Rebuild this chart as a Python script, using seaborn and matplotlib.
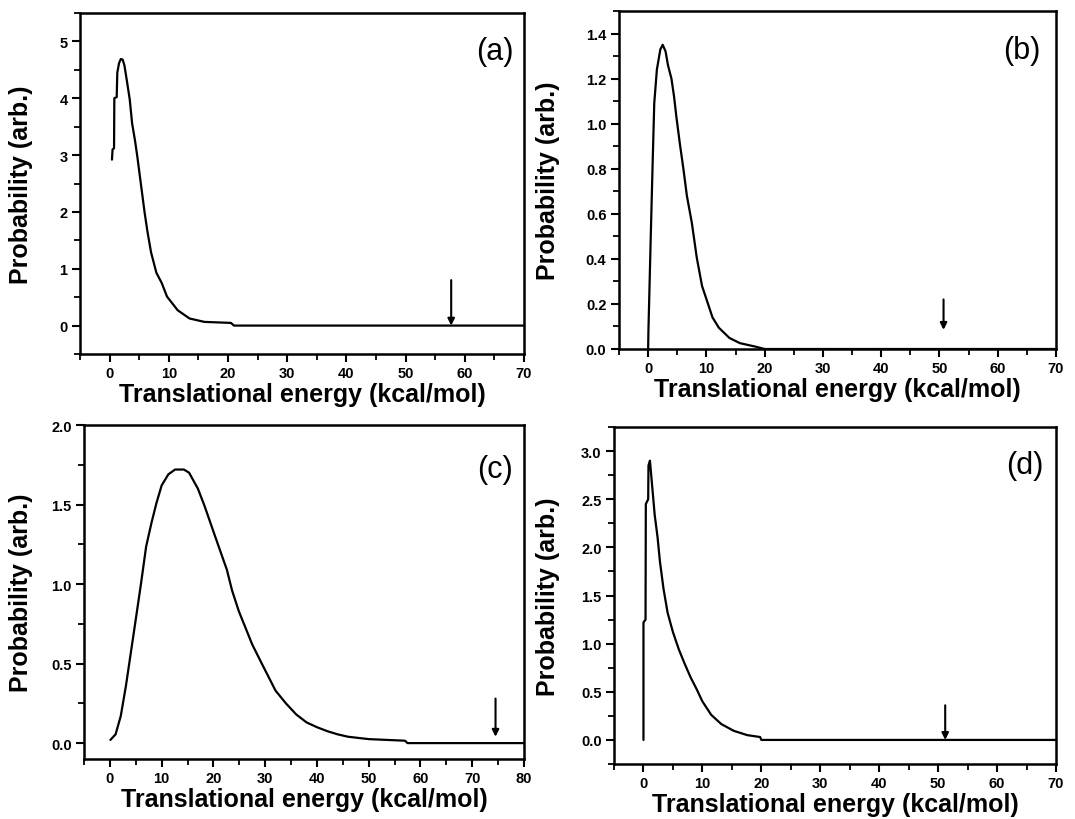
import matplotlib
matplotlib.use("Agg")
import matplotlib.pyplot as plt
from matplotlib.ticker import MultipleLocator, FormatStrFormatter
import seaborn as sns
import pandas as pd

# ---------------- data ----------------
a_energy = [0.4, 0.5, 0.75, 0.8, 1.2, 1.3, 1.6, 1.9, 2.2, 2.5, 2.9, 3.4, 3.8, 4.3, 4.7,
            5.3, 5.9, 6.4, 7.0, 7.9, 8.8, 9.7, 11.5, 13.5, 16.0, 20.5, 21.0, 70.0]
a_prob = [2.92, 3.10, 3.12, 4.00, 4.02, 4.45, 4.62, 4.69, 4.68, 4.58, 4.32, 3.98, 3.56, 3.25, 2.96,
          2.48, 2.00, 1.65, 1.29, 0.93, 0.75, 0.51, 0.27, 0.125, 0.065, 0.047, 0.0, 0.0]

b_energy = [0.0, 0.05, 0.45, 0.8, 1.05, 1.5, 2.1, 2.5, 3.0, 3.4, 4.0, 4.45, 4.85, 5.45, 6.05,
            6.65, 7.5, 8.35, 9.25, 10.15, 11.05, 12.15, 13.95, 15.75, 18.5, 20.0, 70.0]
b_prob = [0.0, 0.08, 0.50, 0.85, 1.09, 1.24, 1.33, 1.35, 1.32, 1.26, 1.20, 1.12, 1.03, 0.91, 0.80,
          0.68, 0.56, 0.405, 0.28, 0.21, 0.14, 0.094, 0.049, 0.026, 0.01, 0.0, 0.0]

c_energy = [0.1, 1.1, 2.1, 3.1, 4.1, 5.1, 6.0, 7.0, 8.0, 9.0, 10.0, 11.3, 12.6, 14.3, 15.3,
            17.0, 18.3, 19.9, 21.3, 22.6, 23.6, 24.9, 26.2, 27.5, 29.5, 32.0, 34.0, 36.0,
            38.0, 40.0, 42.0, 44.0, 46.0, 50.0, 57.0, 57.5, 80.0]
c_prob = [0.02, 0.055, 0.17, 0.36, 0.58, 0.80, 1.00, 1.235, 1.38, 1.51, 1.62, 1.69, 1.72, 1.72, 1.70,
          1.60, 1.49, 1.34, 1.21, 1.09, 0.96, 0.83, 0.725, 0.62, 0.49, 0.33, 0.25, 0.18,
          0.13, 0.10, 0.075, 0.055, 0.04, 0.025, 0.015, 0.0, 0.0]

d_energy = [0.0, 0.0, 0.35, 0.4, 0.8, 0.85, 1.1, 1.5, 1.9, 2.4, 2.8, 3.4, 4.1, 5.0, 6.0,
            7.0, 8.0, 9.0, 10.0, 11.5, 13.2, 15.3, 17.6, 19.8, 20.0, 70.0]
d_prob = [0.0, 1.22, 1.25, 2.45, 2.50, 2.85, 2.90, 2.62, 2.34, 2.10, 1.85, 1.57, 1.32, 1.12, 0.94,
          0.79, 0.65, 0.53, 0.40, 0.26, 0.165, 0.095, 0.05, 0.03, 0.0, 0.0]

panel_labels = ["(a)", "(b)", "(c)", "(d)"]
arrow_x = [57.7, 50.7, 74.5, 51.2]
arrow_top = [0.80, 0.22, 0.28, 0.36]
arrow_bottom = [0.0, 0.085, 0.04, 0.0]

x_label = "Translational energy (kcal/mol)"
y_label = "Probability (arb.)"

# ---------------- style ----------------
sns.set_theme(style="ticks")
plt.rcParams["font.family"] = ["Liberation Sans", "DejaVu Sans"]
plt.rcParams["font.weight"] = "bold"
plt.rcParams["axes.labelweight"] = "bold"
plt.rcParams["text.color"] = "black"
plt.rcParams["axes.labelcolor"] = "black"
plt.rcParams["xtick.color"] = "black"
plt.rcParams["ytick.color"] = "black"

fig = plt.figure(figsize=(10.75, 8.2), dpi=100)
W, H = 1075.0, 820.0


def add_axes_px(l, r, t, b):
    return fig.add_axes([l / W, 1 - b / H, (r - l) / W, (b - t) / H])


panels = [
    dict(box=(80, 524, 14, 355), x=a_energy, y=a_prob, xlim=(-5, 70), ylim=(-0.5, 5.5),
         ymaj=1, ymin=0.5, yfmt="%d", lab=(0.935, 0.89), ylc=-0.105),
    dict(box=(619, 1056, 12, 350), x=b_energy, y=b_prob, xlim=(-5, 70), ylim=(0, 1.5),
         ymaj=0.2, ymin=0.1, yfmt="%.1f", lab=(0.922, 0.884), ylc=-0.135),
    dict(box=(84, 524, 426, 760), x=c_energy, y=c_prob, xlim=(-5, 80), ylim=(-0.1, 2.0),
         ymaj=0.5, ymin=0.25, yfmt="%.1f", lab=(0.935, 0.867), ylc=-0.115),
    dict(box=(614, 1056, 428, 765), x=d_energy, y=d_prob, xlim=(-5, 70), ylim=(-0.25, 3.25),
         ymaj=0.5, ymin=0.25, yfmt="%.1f", lab=(0.93, 0.887), ylc=-0.122),
]

for i, p in enumerate(panels):
    ax = add_axes_px(*p["box"])
    df = pd.DataFrame({"E": p["x"], "P": p["y"]})
    sns.lineplot(data=df, x="E", y="P", ax=ax, color="black", linewidth=1.6,
                 estimator=None, sort=False, legend=False)
    ax.set_xlim(*p["xlim"])
    ax.set_ylim(*p["ylim"])
    ax.xaxis.set_major_locator(MultipleLocator(10))
    ax.xaxis.set_minor_locator(MultipleLocator(5))
    ax.yaxis.set_major_locator(MultipleLocator(p["ymaj"]))
    ax.yaxis.set_minor_locator(MultipleLocator(p["ymin"]))
    ax.yaxis.set_major_formatter(FormatStrFormatter(p["yfmt"]))
    ax.xaxis.set_major_formatter(FormatStrFormatter("%d"))
    ax.tick_params(which="major", direction="out", length=6, width=1.5,
                   labelsize=10.5, pad=3, colors="black")
    ax.tick_params(which="minor", direction="out", length=4, width=1.3, colors="black")
    for lbl in ax.get_xticklabels() + ax.get_yticklabels():
        lbl.set_fontweight("bold")
    for s in ax.spines.values():
        s.set_visible(True)
        s.set_linewidth(1.8)
        s.set_color("black")
    ax.set_xlabel(x_label, fontsize=18, fontweight="bold", labelpad=1, color="black")
    ax.set_ylabel(y_label, fontsize=18, fontweight="bold", color="black")
    ax.yaxis.set_label_coords(p["ylc"], 0.5)
    ax.text(p["lab"][0], p["lab"][1], panel_labels[i], transform=ax.transAxes,
            ha="center", va="center", fontsize=22, fontweight="normal", color="black")
    ax.annotate("", xy=(arrow_x[i], arrow_bottom[i]), xytext=(arrow_x[i], arrow_top[i]),
                arrowprops=dict(arrowstyle="-|>", color="black", lw=1.5,
                                mutation_scale=10, shrinkA=0, shrinkB=0))
    ax.set_facecolor("white")

fig.patch.set_facecolor("white")
fig.savefig("out.png", dpi=100, facecolor="white")
